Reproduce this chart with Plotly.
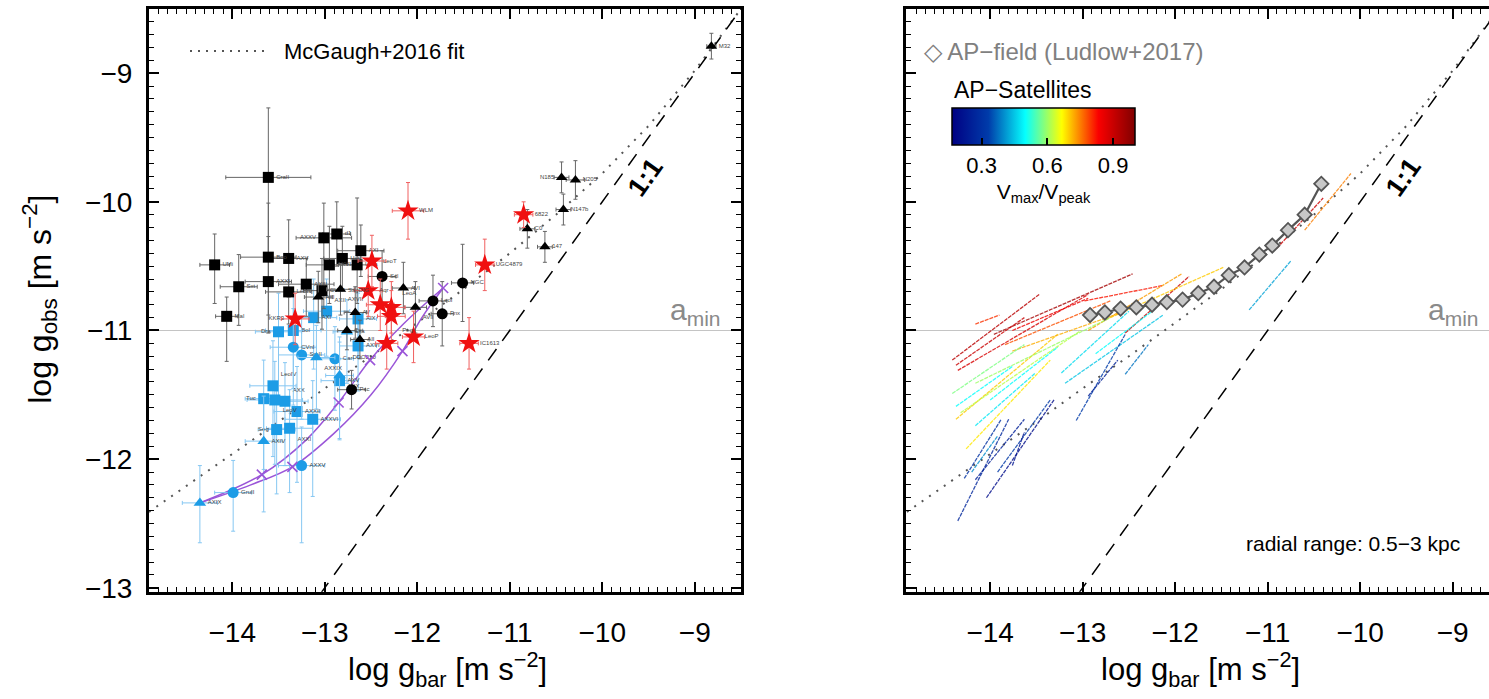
import plotly.graph_objects as go
from plotly.colors import sample_colorscale

W, H = 1489, 699
FONT = "Liberation Sans, Arial, sans-serif"

# ---------------- shared curves ----------------
# McGaugh+2016 radial acceleration relation (log g_bar, log g_obs)
mcg_x = [-14.9, -14.5, -14.0, -13.5, -13.0, -12.5, -12.0, -11.5, -11.0, -10.5, -10.0, -9.5, -9.0, -8.5]
mcg_y = [-12.41, -12.21, -11.96, -11.71, -11.45, -11.20, -10.94, -10.68, -10.40, -10.10, -9.78, -9.41, -8.98, -8.50]
one_x = [-13.05, -8.5]
one_y = [-13.05, -8.5]
a_min = -11.0

# ---------------- left panel: observed dwarfs ----------------
bsq_x = [-13.61, -13.61, -13.61, -13.39, -14.19, -13.93, -14.06, -13.39, -13.20, -13.03, -13.01, -12.87, -12.81, -12.95, -12.65, -12.61]
bsq_y = [-9.81, -10.43, -10.62, -10.44, -10.49, -10.66, -10.89, -10.70, -10.64, -10.69, -10.28, -10.25, -10.44, -10.49, -10.49, -10.38]
bsq_ex = [0.46, 0.30, 0.25, 0.20, 0.16, 0.20, 0.12, 0.25, 0.30, 0.20, 0.30, 0.15, 0.20, 0.25, 0.20, 0.25]
bsq_eyp = [0.54, 0.42, 0.35, 0.30, 0.24, 0.25, 0.15, 0.25, 0.20, 0.25, 0.27, 0.25, 0.25, 0.30, 0.52, 0.20]
bsq_eym = [0.60, 0.45, 0.40, 0.30, 0.30, 0.30, 0.35, 0.25, 0.25, 0.30, 0.55, 0.25, 0.25, 0.30, 0.30, 0.20]
bsq_lab = ["CraII", "Boo", "AXXI", "AXV", "UMi", "Sxt", "Mal", "LeoIV", "AXIII", "CVnII", "AXXV", "d1", "Her", "AXVI", "UMa", "AXI"]
bsq_pos = ["middle right"] * 10 + ["middle left"] + ["middle right"] * 5

bci_x = [-12.38, -11.83, -11.73, -11.51, -12.71]
bci_y = [-10.58, -10.77, -10.87, -10.63, -11.46]
bci_ex = [0.15, 0.15, 0.12, 0.12, 0.15]
bci_ey = [0.20, 0.20, 0.25, 0.30, 0.15]
bci_lab = ["Scl", "LeoI", "Fnx", "NGC", "Psc"]
bci_pos = ["middle right"] * 5

btr_x = [-13.07, -12.83, -12.67, -12.15, -12.02, -12.76, -12.62, -10.44, -10.29, -10.42, -10.81, -10.62, -8.82]
btr_y = [-10.74, -10.68, -10.86, -10.67, -10.82, -11.00, -11.07, -9.81, -9.83, -10.06, -10.21, -10.35, -8.79]
btr_ex = [0.15, 0.15, 0.12, 0.12, 0.12, 0.10, 0.10, 0.08, 0.10, 0.08, 0.08, 0.08, 0.05]
btr_ey = [0.20, 0.20, 0.20, 0.20, 0.20, 0.15, 0.15, 0.12, 0.15, 0.12, 0.15, 0.12, 0.10]
btr_lab = ["AIII", "AXVII", "AV", "AVI", "AVII", "Cet", "AII", "N185", "N205", "N147b", "C0", "147", "M32"]
btr_pos = ["middle right", "bottom right", "middle right", "middle right", "bottom right",
           "middle right", "middle right", "middle left"] + ["middle right"] * 5

rst_x = [-12.10, -12.49, -12.53, -12.40, -12.28, -12.28, -13.32, -12.33, -12.04, -11.44, -10.85, -11.27]
rst_y = [-10.07, -10.46, -10.69, -10.80, -10.82, -10.89, -10.91, -11.10, -11.05, -11.10, -10.10, -10.49]
rst_ex = [0.17, 0.15, 0.15, 0.15, 0.15, 0.15, 0.15, 0.12, 0.12, 0.10, 0.10, 0.10]
rst_ey = [0.22, 0.20, 0.20, 0.20, 0.20, 0.20, 0.20, 0.20, 0.20, 0.20, 0.10, 0.20]
rst_lab = ["WLM", "LeoT", "Aqr", "SagDIG", "LeoA", "Peg", "KKR3", "DDO210", "LeoP", "IC1613", "6822", "UGC4879"]
rst_pos = ["middle right", "middle right", "middle right", "top left", "top right", "bottom right",
           "middle left", "bottom left", "middle right", "middle right", "middle right", "middle right"]

bls_x = [-13.50, -13.34, -13.12, -12.98, -12.64, -12.64, -13.56, -13.66, -13.54, -13.43, -13.30, -13.13, -13.52, -13.38, -12.84]
bls_y = [-11.01, -11.00, -10.90, -10.85, -10.91, -11.12, -11.43, -11.53, -11.54, -11.55, -11.63, -11.69, -11.77, -11.76, -11.39]
bls_ex = [0.25, 0.30, 0.25, 0.25, 0.20, 0.20, 0.25, 0.20, 0.30, 0.25, 0.25, 0.30, 0.20, 0.25, 0.20]
bls_eyp = [0.30, 0.30, 0.30, 0.25, 0.20, 0.25, 0.35, 0.30, 0.30, 0.30, 0.35, 0.30, 0.30, 0.30, 0.30]
bls_eym = [0.50, 0.45, 0.40, 0.35, 0.30, 0.35, 0.55, 0.55, 0.50, 0.50, 0.55, 0.60, 0.50, 0.50, 0.45]
bls_lab = ["Dra", "BoI", "AXI", "AXII", "AIX", "AXVI", "LeoIV", "Tuc", "LeoV", "AXX", "AXXII", "AXXVI", "Seg", "AXXI", "AXV"]
bls_pos = ["middle left", "middle right", "middle right", "top right", "middle right", "middle right",
           "top right", "middle left", "bottom right", "top right", "middle right", "middle right",
           "middle left", "bottom right", "middle right"]

blc_x = [-13.34, -13.25, -12.89, -13.99, -13.25]
blc_y = [-11.13, -11.19, -11.22, -12.26, -12.05]
blc_ex = [0.25, 0.25, 0.20, 0.20, 0.25]
blc_eyp = [0.30, 0.30, 0.25, 0.25, 0.30]
blc_eym = [0.45, 0.50, 0.40, 0.30, 0.60]
blc_lab = ["CVnI", "SmII", "Car", "GruII", "AXXV"]
blc_pos = ["middle right"] * 5

blt_x = [-14.35, -13.66, -12.76, -13.09, -12.84]
blt_y = [-12.34, -11.86, -11.01, -11.21, -11.35]
blt_ex = [0.19, 0.20, 0.15, 0.20, 0.15]
blt_eyp = [0.29, 0.35, 0.25, 0.25, 0.30]
blt_eym = [0.31, 0.55, 0.40, 0.40, 0.50]
blt_lab = ["AXIX", "AXIV", "Cra", "AXXIX", "AXX"]
blt_pos = ["middle right", "middle right", "middle right", "bottom right", "bottom right"]

# model tracks (purple)
pa_x = [-14.35, -13.68, -13.20, -12.85, -12.51, -12.15, -11.72]
pa_y = [-12.34, -12.12, -11.85, -11.56, -11.23, -10.95, -10.67]
pa_mx = [-13.68, -12.85, -12.51]
pa_my = [-12.12, -11.56, -11.23]
pb_x = [-14.35, -13.80, -13.35, -12.90, -12.50, -12.16, -11.95, -11.72]
pb_y = [-12.34, -12.20, -12.06, -11.80, -11.50, -11.16, -10.90, -10.67]
pb_mx = [-13.35, -12.16, -11.72]
pb_my = [-12.06, -11.16, -10.67]

# ---------------- right panel: simulations ----------------
apf_x = [-12.92, -12.76, -12.59, -12.42, -12.25, -12.09, -11.92, -11.75, -11.58, -11.42, -11.25, -11.09, -10.95, -10.78, -10.60, -10.42]
apf_y = [-10.88, -10.86, -10.83, -10.82, -10.80, -10.78, -10.76, -10.71, -10.66, -10.57, -10.51, -10.41, -10.34, -10.22, -10.10, -9.86]

sat_ratio = [0.92, 0.95, 0.88, 0.85, 0.80, 0.90, 0.82, 0.90, 0.78, 0.73, 0.70, 0.70, 0.68, 0.72,
             0.58, 0.62, 0.60, 0.50, 0.48, 0.50, 0.47, 0.45, 0.50, 0.42,
             0.27, 0.30, 0.25, 0.20, 0.32, 0.33, 0.25, 0.38, 0.22, 0.40, 0.75, 0.90]
sat_x = [[-14.41, -13.47], [-13.96, -12.46], [-14.35, -12.94], [-13.76, -12.94], [-14.16, -13.90],
         [-12.54, -11.85], [-12.98, -12.13], [-14.37, -13.63], [-13.84, -12.70], [-12.94, -11.93],
         [-12.70, -11.48], [-14.37, -13.27], [-14.26, -13.35], [-13.76, -12.54],
         [-14.41, -13.63], [-14.32, -13.02], [-14.16, -12.70], [-14.37, -13.76], [-14.16, -13.51],
         [-14.00, -13.27], [-13.23, -12.50], [-13.19, -12.13], [-12.86, -12.21], [-11.20, -10.75],
         [-14.35, -13.80], [-14.28, -13.88], [-14.16, -13.63], [-14.04, -13.31], [-13.92, -13.35],
         [-13.07, -12.54], [-12.94, -12.62], [-12.54, -12.29], [-13.76, -13.63], [-14.20, -13.92],
         [-10.60, -10.10], [-10.90, -10.40]]
sat_y = [[-11.23, -10.72], [-11.03, -10.56], [-11.31, -10.72], [-11.00, -10.75], [-10.95, -10.88],
         [-11.02, -10.58], [-10.77, -10.65], [-11.27, -10.90], [-11.11, -10.77], [-11.00, -10.56],
         [-10.90, -10.51], [-11.69, -11.03], [-11.92, -11.23], [-11.16, -10.85],
         [-11.49, -11.11], [-11.64, -11.00], [-11.41, -10.90], [-11.59, -11.28], [-11.74, -11.33],
         [-11.54, -11.13], [-11.33, -10.85], [-11.41, -10.88], [-11.18, -10.83], [-10.84, -10.46],
         [-12.48, -11.69], [-12.15, -11.69], [-12.16, -11.69], [-12.30, -11.54], [-12.10, -11.54],
         [-11.70, -11.03], [-11.51, -11.23], [-11.34, -11.11], [-12.05, -11.79], [-12.10, -11.82],
         [-10.22, -9.78], [-10.36, -9.97]]
cb_min, cb_max = 0.165, 1.0
cb_ticks = [0.3, 0.6, 0.9]
cb_text = ["0.3", "0.6", "0.9"]

x_tick_vals = [-14, -13, -12, -11, -10, -9]
y_tick_vals = [-13, -12, -11, -10, -9]

fig = go.Figure()


def add_points(x, y, ex, eyp, eym, labels, pos, symbol, size, color, ecolor):
    fig.add_trace(go.Scatter(
        x=x, y=y, mode="markers+text",
        text=labels, textposition=pos,
        textfont=dict(size=6, color="#444", family=FONT),
        marker=dict(symbol=symbol, size=size, color=color, line=dict(width=0)),
        error_x=dict(type="data", array=ex, thickness=1, width=2, color=ecolor),
        error_y=dict(type="data", array=eyp, arrayminus=eym, symmetric=False,
                     thickness=1, width=2, color=ecolor),
        showlegend=False, hoverinfo="skip", cliponaxis=False))


def guide_lines(xa, ya, xmax):
    fig.add_trace(go.Scatter(x=[-14.95, xmax], y=[a_min, a_min], mode="lines", xaxis=xa, yaxis=ya,
                             line=dict(color="#c4c4c4", width=1.2), showlegend=False, hoverinfo="skip"))
    fig.add_trace(go.Scatter(x=mcg_x, y=mcg_y, mode="lines", xaxis=xa, yaxis=ya,
                             line=dict(color="#555", width=2, dash="2px,7px"),
                             showlegend=False, hoverinfo="skip"))
    fig.add_trace(go.Scatter(x=one_x, y=one_y, mode="lines", xaxis=xa, yaxis=ya,
                             line=dict(color="black", width=1.5, dash="14px,10px"),
                             showlegend=False, hoverinfo="skip"))


# left panel
guide_lines("x", "y", -8.5)
for px_, py_ in ((pa_x, pa_y), (pb_x, pb_y)):
    fig.add_trace(go.Scatter(x=px_, y=py_, mode="lines", line=dict(color="#9a55d8", width=1.5, shape="spline"),
                             showlegend=False, hoverinfo="skip"))
add_points(bls_x, bls_y, bls_ex, bls_eyp, bls_eym, bls_lab, bls_pos, "square", 11, "#1c9ce6", "#86c7f2")
add_points(blc_x, blc_y, blc_ex, blc_eyp, blc_eym, blc_lab, blc_pos, "circle", 11, "#1c9ce6", "#86c7f2")
add_points(blt_x, blt_y, blt_ex, blt_eyp, blt_eym, blt_lab, blt_pos, "triangle-up", 11, "#1c9ce6", "#86c7f2")
add_points(bsq_x, bsq_y, bsq_ex, bsq_eyp, bsq_eym, bsq_lab, bsq_pos, "square", 11, "black", "#666")
add_points(bci_x, bci_y, bci_ex, bci_ey, bci_ey, bci_lab, bci_pos, "circle", 11, "black", "#666")
add_points(btr_x, btr_y, btr_ex, btr_ey, btr_ey, btr_lab, btr_pos, "triangle-up", 10, "black", "#666")
add_points(rst_x, rst_y, rst_ex, rst_ey, rst_ey, rst_lab, rst_pos, "star", 16, "#f01010", "#f06060")
fig.add_trace(go.Scatter(x=pa_mx + pb_mx, y=pa_my + pb_my, mode="markers",
                         marker=dict(symbol="x-thin", size=10, line=dict(color="#9a55d8", width=1.6)),
                         showlegend=False, hoverinfo="skip"))

# right panel
guide_lines("x2", "y2", -8.6)
for r, xs, ys in zip(sat_ratio, sat_x, sat_y):
    col = sample_colorscale("Jet", [(r - cb_min) / (cb_max - cb_min)])[0]
    fig.add_trace(go.Scatter(x=xs, y=ys, mode="lines", xaxis="x2", yaxis="y2",
                             line=dict(color=col, width=1.3, dash="4px,1px"), opacity=0.8,
                             showlegend=False, hoverinfo="skip"))
fig.add_trace(go.Scatter(x=apf_x, y=apf_y, mode="lines+markers", xaxis="x2", yaxis="y2",
                         line=dict(color="#555", width=2.2),
                         marker=dict(symbol="diamond", size=11, color="#c8c8c8",
                                     line=dict(color="#555", width=1.8)),
                         showlegend=False, hoverinfo="skip"))
# colour scale carrier
fig.add_trace(go.Scatter(
    x=[-20], y=[-20], mode="markers", xaxis="x2", yaxis="y2", showlegend=False, hoverinfo="skip",
    marker=dict(color=[0.5], colorscale="Jet", cmin=cb_min, cmax=cb_max, showscale=True,
                colorbar=dict(orientation="h", x=1043.5 / W, xanchor="center", y=1 - 110 / H,
                              yanchor="top", xpad=0, ypad=0,
                              len=183, lenmode="pixels", thickness=37,
                              thicknessmode="pixels", outlinewidth=1.5, outlinecolor="black",
                              tickvals=cb_ticks, ticktext=cb_text, ticks="inside", ticklen=7,
                              tickwidth=1.5, tickcolor="black",
                              tickfont=dict(size=22, family=FONT, color="black"),
                              title=dict(text="V<sub>max</sub>/V<sub>peak</sub>", side="bottom",
                                         font=dict(size=21, family=FONT, color="black"))))))

axis_common = dict(showline=True, linewidth=3, linecolor="black", ticks="inside", ticklen=10,
                   tickwidth=2, tickcolor="black", showgrid=False, zeroline=False,
                   minor=dict(dtick=0.1, ticks="inside", ticklen=5, tickwidth=1.3, tickcolor="black",
                              showgrid=False),
                   tickfont=dict(size=28, family=FONT, color="black"))

ydom = [1 - 602 / H, 1 - 9 / H]
fig.update_layout(
    width=W, height=H, margin=dict(l=0, r=0, t=0, b=0),
    paper_bgcolor="white", plot_bgcolor="white", showlegend=False,
    xaxis=dict(domain=[149 / W, 741 / W], range=[-14.9, -8.5], tickvals=x_tick_vals, mirror="allticks",
               anchor="y", ticklabelstandoff=14, **axis_common),
    yaxis=dict(domain=ydom, range=[-13.03, -8.5], tickvals=y_tick_vals, mirror="allticks",
               anchor="x", ticklabelstandoff=8, **axis_common),
    xaxis2=dict(domain=[906 / W, 1.0], range=[-14.91, -8.607], tickvals=x_tick_vals, mirror="allticks",
                anchor="y2", ticklabelstandoff=14, **axis_common),
    yaxis2=dict(domain=ydom, range=[-13.03, -8.5], tickvals=y_tick_vals, mirror=False,
                anchor="x2", showticklabels=False, **axis_common),
)

ann = []
title_font = dict(size=31, family=FONT, color="black")
xt = "log g<sub>bar</sub> [m s<sup>−2</sup>]"
ann.append(dict(text=xt, x=447 / W, y=1 - 681 / H, xref="paper", yref="paper", showarrow=False,
                xanchor="center", yanchor="middle", font=title_font))
ann.append(dict(text=xt, x=1200 / W, y=1 - 681 / H, xref="paper", yref="paper", showarrow=False,
                xanchor="center", yanchor="middle", font=title_font))
ann.append(dict(text="log g<sub>obs</sub> [m s<sup>−2</sup>]", x=40 / W, y=1 - 305 / H, xref="paper",
                yref="paper", showarrow=False, textangle=-90, xanchor="center", yanchor="middle",
                font=dict(size=32, family=FONT, color="black")))
for xa, ya in (("x", "y"), ("x2", "y2")):
    ann.append(dict(text="a<sub>min</sub>", x=-8.69, y=a_min, xref=xa, yref=ya, showarrow=False,
                    xanchor="right", yanchor="bottom", yshift=-2,
                    font=dict(size=30, family=FONT, color="#8a8a8a")))
    ann.append(dict(text="<b>1:1</b>", x=-9.53, y=-9.81, xref=xa, yref=ya, showarrow=False,
                    textangle=-54.6, font=dict(size=27, family=FONT, color="black")))
ann.append(dict(text="McGaugh+2016 fit", x=282 / W, y=1 - 52 / H, xref="paper", yref="paper",
                showarrow=False, xanchor="left", yanchor="middle",
                font=dict(size=22, family=FONT, color="black")))
ann.append(dict(text="◇ AP−field (Ludlow+2017)", x=922 / W, y=1 - 52 / H, xref="paper", yref="paper",
                showarrow=False, xanchor="left", yanchor="middle",
                font=dict(size=24, family=FONT, color="#808080")))
ann.append(dict(text="AP−Satellites", x=952 / W, y=1 - 92 / H, xref="paper", yref="paper",
                showarrow=False, xanchor="left", yanchor="middle",
                font=dict(size=23, family=FONT, color="black")))
ann.append(dict(text="radial range: 0.5−3 kpc", x=1462 / W, y=1 - 553 / H, xref="paper", yref="paper",
                showarrow=False, xanchor="right", yanchor="middle",
                font=dict(size=21, family=FONT, color="black")))
fig.update_layout(annotations=ann)
fig.add_shape(type="line", xref="paper", yref="paper", x0=190 / W, x1=265 / W, y0=1 - 52 / H,
              y1=1 - 52 / H, line=dict(color="#555", width=2, dash="2px,6px"))

fig.write_html("out.html")
